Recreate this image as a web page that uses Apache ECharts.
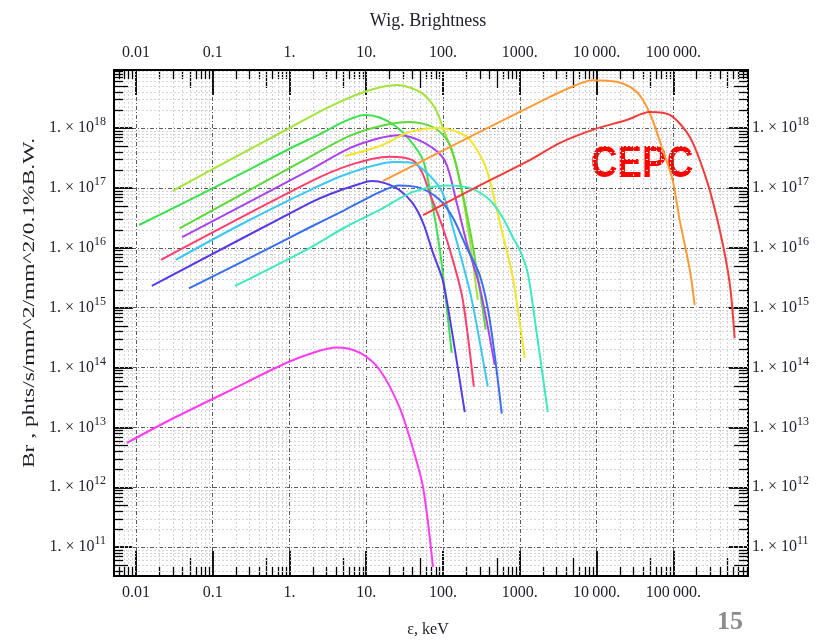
<!DOCTYPE html>
<html>
<head>
<meta charset="utf-8">
<script src="https://cdn.jsdelivr.net/npm/echarts@6.0.0/dist/echarts.min.js"></script>
<style>
html, body { margin: 0; padding: 0; background: #fff; }
#chart { width: 821px; height: 640px; }
</style>
</head>
<body>
<div id="chart"></div>
<script>
// axis ranges: photon energy (keV) and brightness
var xMin = 0.00518, xMax = 9.4e5;
var yMin = 3.3e10, yMax = 9.3e18;

// tick labels, first one is 10^-2
var xTickLabels = ['0.01', '0.1', '1.', '10.', '100.', '1000.', '10\u2009000.', '100\u2009000.'];
var xFirstExp = -2;

// curves, [keV, brightness]
var yellowGreen = [[0.030,8.9e16],[0.17,2.95e17],[1.0,1.0e18],[3.4,2.3e18],[10,4.1e18],[25,5.2e18],[50,4.0e18],[78,2.2e18],[100,1.0e18],[143,2.9e17],[181,7.1e16],[223,1.35e16],[284,1.35e15]];
var green = [[0.011,2.4e16],[0.1,9.8e16],[1.0,4.5e17],[2.49,7.9e17],[5.3,1.3e18],[9.6,1.65e18],[15,1.5e18],[24,1.08e18],[37,6.3e17],[55,2.9e17],[71,6.3e16],[91,9.2e15],[109,1.35e15],[130,1.75e14]];
var green2 = [[0.037,2.1e16],[1.85,3.3e17],[6.1,7.4e17],[17.5,1.12e18],[37,1.26e18],[78,1.0e18],[123,5.2e17],[176,9.2e16],[237,1.35e16],[301,2.0e15],[360,4.3e14]];
var purple = [[0.040,1.5e16],[1.85,2.0e17],[6.1,4.6e17],[15,6.8e17],[27,7.6e17],[58,5.6e17],[105,2.9e17],[151,5.6e16],[204,1.2e16],[301,2.2e15],[472,1.1e14]];
var yellow = [[5.3,3.4e17],[15,5.0e17],[37,8.6e17],[91,1.0e18],[204,7.1e17],[330,2.9e17],[406,1.36e17],[501,4.3e16],[638,1.2e16],[811,3.2e15],[1160,1.45e14]];
var pink = [[0.0212,6.3e15],[1.85,1.26e17],[6.1,2.4e17],[20,3.3e17],[40,2.9e17],[53,1.85e17],[67,8.2e16],[99,2.2e16],[134,6.3e15],[181,1.35e15],[252,4.8e13]];
var cyan = [[0.033,6.3e15],[0.226,2.4e16],[1.85,9.2e16],[6.1,1.77e17],[23.5,2.7e17],[40,2.6e17],[67,1.6e17],[99,8.2e16],[134,2.2e16],[175,6.3e15],[237,1.35e15],[383,4.8e13]];
var violet = [[0.0161,2.3e15],[1.85,5.6e16],[3.4,7.9e16],[8.3,1.17e17],[11.8,1.3e17],[17.5,1.2e17],[27,9.2e16],[40,5.6e16],[55,2.6e16],[74,8.2e15],[99,2.9e15],[130,4.2e14],[192,1.8e13]];
var blue = [[0.049,2.1e15],[0.305,6.8e15],[1.85,2.2e16],[5.3,4.3e16],[15,8.5e16],[27,1.1e17],[50,1.0e17],[91,6.3e16],[134,3.2e16],[204,1.0e16],[301,3.5e15],[406,6.3e14],[583,1.7e13]];
var turquoise = [[0.195,2.3e15],[1.85,1.0e16],[5.3,2.2e16],[15,4.3e16],[40,8.5e16],[112,1.1e17],[223,1.0e17],[406,6.3e16],[600,3.2e16],[811,1.5e16],[1000,9.2e15],[1270,3.8e15],[1570,6.3e14],[2320,1.8e13]];
var orange = [[16.4,1.3e17],[301,8.6e17],[2000,2.9e18],[4480,4.7e18],[8900,6.3e18],[18300,5.9e18],[33400,4.0e18],[49300,1.78e18],[72800,4.3e17],[98000,1.35e17],[121000,2.9e16],[164000,4.3e15],[190000,1.1e15]];
var red = [[55,3.5e16],[301,1.1e17],[1350,2.9e17],[3300,5.6e17],[8900,9.3e17],[24700,1.36e18],[49300,1.85e18],[90000,1.65e18],[164000,7.1e17],[272000,1.35e17],[402000,2.0e16],[542000,2.6e15],[630000,3.1e14]];
var magenta = [[0.0076,5.5e12],[0.0277,1.33e13],[0.153,3.9e13],[0.92,1.2e14],[2.14,1.8e14],[4.1,2.15e14],[8.3,1.75e14],[15,9.1e13],[27,2.2e13],[40,4.7e12],[55,1.0e12],[74,4.7e10]];

var curves = [
  [yellowGreen, '#a3e43a'], [green, '#3de04e'], [green2, '#5cd83a'], [purple, '#a744f0'],
  [yellow, '#f2e52a'], [pink, '#ff3d6e'], [cyan, '#3cc6f2'], [violet, '#5a3ae6'],
  [blue, '#3a6ef0'], [turquoise, '#3ee8c0'], [orange, '#ff9a38'], [red, '#f23c3c'],
  [magenta, '#ff3cf0']
];

// minor tick positions 2..9 in each decade
var minorX = [], minorY = [];
for (var e = -3; e <= 6; e++) {
  for (var m = 2; m <= 9; m++) {
    var v = m * Math.pow(10, e);
    if (v > xMin && v < xMax) minorX.push([v, yMin, m]);
  }
}
for (var e2 = 10; e2 <= 18; e2++) {
  for (var m2 = 2; m2 <= 9; m2++) {
    var w = m2 * Math.pow(10, e2);
    if (w > yMin && w < yMax) minorY.push([xMin, w, m2]);
  }
}

function px(a) { return Math.round(a) + 0.5; }

function renderMinorX(params, api) {
  var b = api.coord([api.value(0), yMin]);
  var t = api.coord([api.value(0), yMax]);
  var len = api.value(2) === 5 ? 18 : 9;
  var x = px(b[0]);
  return { type: 'group', children: [
    { type: 'line', shape: { x1: x, y1: t[1], x2: x, y2: b[1] }, style: { stroke: '#d4d4d4', lineWidth: 1, lineDash: [2, 2] } },
    { type: 'line', shape: { x1: x, y1: b[1], x2: x, y2: b[1] - len }, style: { stroke: '#000', lineWidth: 1.3 } },
    { type: 'line', shape: { x1: x, y1: t[1], x2: x, y2: t[1] + len }, style: { stroke: '#000', lineWidth: 1.3 } }
  ]};
}

function renderMinorY(params, api) {
  var l = api.coord([xMin, api.value(1)]);
  var r = api.coord([xMax, api.value(1)]);
  var len = api.value(2) === 5 ? 14 : 9;
  var y = px(l[1]);
  return { type: 'group', children: [
    { type: 'line', shape: { x1: l[0], y1: y, x2: r[0], y2: y }, style: { stroke: '#d4d4d4', lineWidth: 1, lineDash: [2, 2] } },
    { type: 'line', shape: { x1: l[0], y1: y, x2: l[0] + len, y2: y }, style: { stroke: '#000', lineWidth: 1.3 } },
    { type: 'line', shape: { x1: r[0], y1: y, x2: r[0] - len, y2: y }, style: { stroke: '#000', lineWidth: 1.3 } }
  ]};
}

function xLabel(v) {
  var lg = Math.log10(v), e = Math.round(lg);
  if (Math.abs(lg - e) > 0.01) return '';
  return xTickLabels[e - xFirstExp] || '';
}
function yLabel(v) {
  var lg = Math.log10(v), e = Math.round(lg);
  if (Math.abs(lg - e) > 0.01) return '';
  return '{m|1. \u00d7 10}{s|' + e + '}';
}

var serif = '"Liberation Serif", "DejaVu Serif", serif';
var labelRich = {
  m: { fontSize: 16, fontFamily: serif, color: '#1e1e28', lineHeight: 24 },
  s: { fontSize: 12, fontFamily: serif, color: '#1e1e28', lineHeight: 8, verticalAlign: 'top' }
};

function xAxisDef(pos, grid) {
  return {
    type: 'log', logBase: 10, position: pos, min: xMin, max: xMax,
    axisLine: { show: true, onZero: false, lineStyle: { color: '#000', width: 2 } },
    axisTick: { show: true, inside: true, length: 25, lineStyle: { color: '#000', width: 1.8 } },
    axisLabel: { show: true, margin: 9, showMinLabel: false, showMaxLabel: false, formatter: xLabel,
      fontSize: 16, fontFamily: serif, color: '#1e1e28' },
    splitLine: { show: grid, lineStyle: { color: '#5a5a5a', width: 1, type: [4, 2, 1, 2] } },
    minorTick: { show: false }
  };
}
function yAxisDef(pos, grid, margin) {
  return {
    type: 'log', logBase: 10, position: pos, min: yMin, max: yMax,
    axisLine: { show: true, onZero: false, lineStyle: { color: '#000', width: 2 } },
    axisTick: { show: true, inside: true, length: 19, lineStyle: { color: '#000', width: 1.8 } },
    axisLabel: { show: true, margin: margin, showMinLabel: false, showMaxLabel: false, formatter: yLabel, rich: labelRich },
    splitLine: { show: grid, lineStyle: { color: '#5a5a5a', width: 1, type: [4, 2, 1, 2] } }
  };
}

var series = [
  { type: 'custom', data: minorX, renderItem: renderMinorX, z: 1, silent: true, encode: { x: 0, y: 1 } },
  { type: 'custom', data: minorY, renderItem: renderMinorY, z: 1, silent: true, encode: { x: 0, y: 1 } }
];
curves.forEach(function (c) {
  series.push({
    type: 'line', data: c[0], showSymbol: false, smooth: 0.3, z: 3, clip: true,
    lineStyle: { color: c[1], width: 2 }
  });
});

var chart = echarts.init(document.getElementById('chart'));
chart.setOption({
  animation: false,
  backgroundColor: '#fff',
  grid: { left: 114, right: 73, top: 70, bottom: 64, show: true, borderColor: '#000', borderWidth: 2, backgroundColor: 'transparent' },
  xAxis: [xAxisDef('bottom', true), xAxisDef('top', false)],
  yAxis: [yAxisDef('left', true, 8), yAxisDef('right', false, 4)],
  series: series,
  graphic: [
    { type: 'text', x: 428, y: 21, style: { text: 'Wig. Brightness', font: '18px ' + serif, fill: '#1e1e28', align: 'center', verticalAlign: 'middle' } },
    { type: 'text', x: 428, y: 630, style: { text: '\u03b5, keV', font: '16px ' + serif, fill: '#1e1e28', align: 'center', verticalAlign: 'middle' } },
    { type: 'text', x: 30, y: 303, rotation: Math.PI / 2, scaleX: 1.38, style: { text: 'Br , phts/s/mm^2/mm^2/0.1%B.W.', font: '17px ' + serif, fill: '#1e1e28', align: 'center', verticalAlign: 'middle' } },
    { type: 'text', x: 730, y: 622, style: { text: '15', font: 'bold 26px ' + serif, fill: '#8c8c8c', align: 'center', verticalAlign: 'middle' } },
    { type: 'text', x: 642, y: 165, scaleX: 0.88, scaleY: 1.05, style: { text: 'CEPC', font: 'bold 42px "Liberation Sans", sans-serif', fill: '#ff0000', align: 'center', verticalAlign: 'middle' } }
  ]
});
</script>
</body>
</html>
